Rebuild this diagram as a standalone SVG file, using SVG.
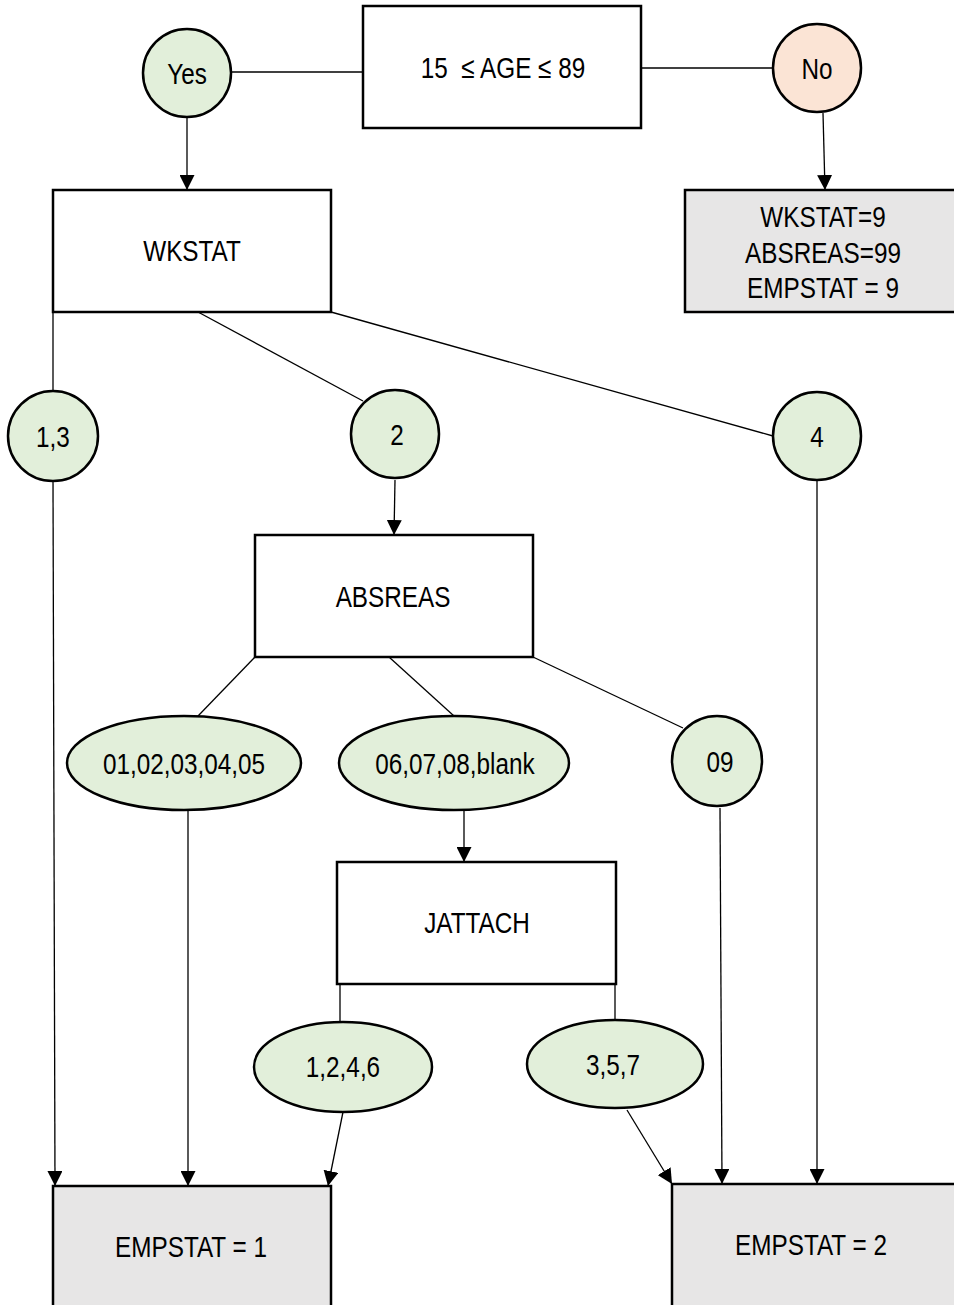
<svg xmlns="http://www.w3.org/2000/svg" width="954" height="1305" viewBox="0 0 954 1305">
<style>
.box{fill:#ffffff;stroke:#000;stroke-width:2.5}
.out{fill:#e7e6e6;stroke:#000;stroke-width:2.5}
.g{fill:#e2efda;stroke:#000;stroke-width:2.5}
.p{fill:#fbe4d5;stroke:#000;stroke-width:2.5}
.ln{stroke:#000;stroke-width:1.3;fill:none}
.ar{marker-end:url(#ah)}
text{font-family:"Liberation Sans",Arial,sans-serif;font-size:30px;fill:#000;text-anchor:middle}
</style>
<defs>
<marker id="ah" markerUnits="userSpaceOnUse" markerWidth="15" markerHeight="15" viewBox="0 0 15 15" refX="15" refY="7.5" orient="auto">
<path d="M0,0 L15,7.5 L0,15 z" fill="#000"/>
</marker>
</defs>
<rect width="954" height="1305" fill="#fff"/>
<g id="connectors">
<line class="ln" x1="232" y1="72" x2="363" y2="72"/>
<line class="ln" x1="641" y1="68" x2="773" y2="68"/>
<line class="ln ar" x1="187" y1="118" x2="187" y2="190"/>
<line class="ln ar" x1="823" y1="113" x2="825" y2="190"/>
<line class="ln" x1="53" y1="312" x2="53" y2="391"/>
<line class="ln" x1="198" y1="312" x2="363" y2="401"/>
<line class="ln" x1="331" y1="312" x2="773" y2="436"/>
<line class="ln ar" x1="53" y1="481" x2="55" y2="1186"/>
<line class="ln ar" x1="395" y1="480" x2="394" y2="535"/>
<line class="ln ar" x1="817" y1="481" x2="817" y2="1184"/>
<line class="ln" x1="255" y1="657" x2="198" y2="716"/>
<line class="ln" x1="389" y1="657" x2="454" y2="716"/>
<line class="ln" x1="533" y1="657" x2="683" y2="728"/>
<line class="ln ar" x1="188" y1="810" x2="188" y2="1186"/>
<line class="ln ar" x1="464" y1="810" x2="464" y2="862"/>
<line class="ln ar" x1="720" y1="808" x2="722" y2="1184"/>
<line class="ln" x1="340" y1="984" x2="340" y2="1022"/>
<line class="ln" x1="615" y1="984" x2="615" y2="1020"/>
<line class="ln ar" x1="343" y1="1112" x2="328" y2="1186"/>
<line class="ln ar" x1="627" y1="1110" x2="672" y2="1184"/>
</g>
<g id="age">
<rect class="box" x="363" y="6" width="278" height="122"/>
<text transform="translate(503,78) scale(0.81,1)" style="white-space:pre">15  ≤ AGE ≤ 89</text>
</g>
<g id="yes">
<circle class="g" cx="187" cy="73" r="44"/>
<text transform="translate(187,84) scale(0.81,1)">Yes</text>
</g>
<g id="no">
<circle class="p" cx="817" cy="68" r="44"/>
<text transform="translate(817,79) scale(0.81,1)">No</text>
</g>
<g id="wkstat">
<rect class="box" x="53" y="190" width="278" height="122"/>
<text transform="translate(192,261) scale(0.81,1)">WKSTAT</text>
</g>
<g id="out9">
<rect class="out" x="685" y="190" width="272" height="122"/>
<text transform="translate(823,227) scale(0.81,1)">WKSTAT=9</text>
<text transform="translate(823,263) scale(0.81,1)">ABSREAS=99</text>
<text transform="translate(823,298) scale(0.81,1)">EMPSTAT = 9</text>
</g>
<g id="w13">
<circle class="g" cx="53" cy="436" r="45"/>
<text transform="translate(53,447) scale(0.81,1)">1,3</text>
</g>
<g id="w2">
<circle class="g" cx="395" cy="434" r="44"/>
<text transform="translate(397,445) scale(0.81,1)">2</text>
</g>
<g id="w4">
<circle class="g" cx="817" cy="436" r="44"/>
<text transform="translate(817,447) scale(0.81,1)">4</text>
</g>
<g id="absreas">
<rect class="box" x="255" y="535" width="278" height="122"/>
<text transform="translate(393,607) scale(0.81,1)">ABSREAS</text>
</g>
<g id="a1">
<ellipse class="g" cx="184" cy="763" rx="117" ry="47"/>
<text transform="translate(184,774) scale(0.81,1)">01,02,03,04,05</text>
</g>
<g id="a2">
<ellipse class="g" cx="454" cy="763" rx="115" ry="47"/>
<text transform="translate(455,774) scale(0.81,1)">06,07,08,blank</text>
</g>
<g id="a09">
<circle class="g" cx="717" cy="761" r="45"/>
<text transform="translate(720,772) scale(0.81,1)">09</text>
</g>
<g id="jattach">
<rect class="box" x="337" y="862" width="279" height="122"/>
<text transform="translate(477,933) scale(0.81,1)">JATTACH</text>
</g>
<g id="j1">
<ellipse class="g" cx="343" cy="1067" rx="89" ry="45"/>
<text transform="translate(343,1077) scale(0.81,1)">1,2,4,6</text>
</g>
<g id="j2">
<ellipse class="g" cx="615" cy="1064" rx="88" ry="44"/>
<text transform="translate(613,1075) scale(0.81,1)">3,5,7</text>
</g>
<g id="emp1">
<rect class="out" x="53" y="1186" width="278" height="130"/>
<text transform="translate(191,1257) scale(0.81,1)">EMPSTAT = 1</text>
</g>
<g id="emp2">
<rect class="out" x="672" y="1184" width="285" height="130"/>
<text transform="translate(811,1255) scale(0.81,1)">EMPSTAT = 2</text>
</g>
</svg>
